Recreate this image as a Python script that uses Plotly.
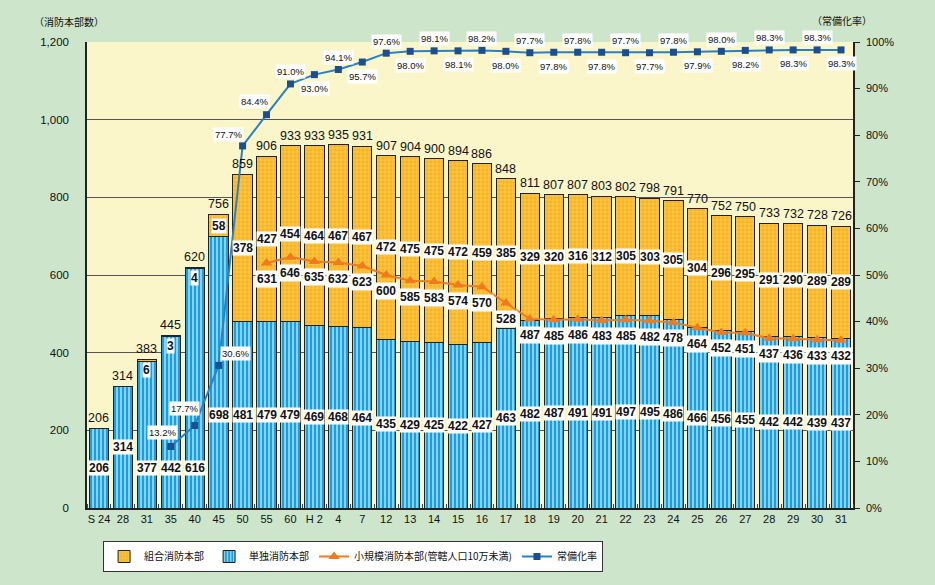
import plotly.graph_objects as go

categories = ["S 24", "28", "31", "35", "40", "45", "50", "55", "60", "H 2", "4", "7",
              "12", "13", "14", "15", "16", "17", "18", "19", "20", "21", "22", "23",
              "24", "25", "26", "27", "28", "29", "30", "31"]
single_hq = [206, 314, 377, 442, 616, 698, 481, 479, 479, 469, 468, 464, 435, 429, 425, 422,
             427, 463, 482, 487, 491, 491, 497, 495, 486, 466, 456, 455, 442, 442, 439, 437]
union_hq = [0, 0, 6, 3, 4, 58, 378, 427, 454, 464, 467, 467, 472, 475, 475, 472,
            459, 385, 329, 320, 316, 312, 305, 303, 305, 304, 296, 295, 291, 290, 289, 289]
small_start = 7
small_hq = [631, 646, 635, 632, 623, 600, 585, 583, 574, 570, 528, 487, 485, 486, 483,
            485, 482, 478, 464, 452, 451, 437, 436, 433, 432]
rate_start = 3
rate = [13.2, 17.7, 30.6, 77.7, 84.4, 91.0, 93.0, 94.1, 95.7, 97.6, 98.0, 98.1, 98.1, 98.2,
        98.0, 97.7, 97.8, 97.8, 97.8, 97.7, 97.7, 97.8, 97.9, 98.0, 98.2, 98.3, 98.3, 98.3, 98.3]
left_ticks = [0, 200, 400, 600, 800, 1000, 1200]
left_ticktext = ["0", "200", "400", "600", "800", "1,000", "1,200"]

FONT = "Liberation Sans, Arial, Noto Sans CJK JP"
CJK = "Noto Sans CJK JP, sans-serif"

x = list(range(len(categories)))
totals = [a + b for a, b in zip(single_hq, union_hq)]
x_small = x[small_start:small_start + len(small_hq)]
x_rate = x[rate_start:rate_start + len(rate)]

BLUE = "#16A0DF"
ORANGE = "#F7B322"

fig = go.Figure()
fig.add_trace(go.Bar(
    x=x, y=single_hq, name="単独消防本部", legendrank=2,
    marker=dict(color=BLUE, line=dict(color="#222", width=1),
                pattern=dict(shape="|", fgcolor="#FFFFFF", size=4, solidity=0.5, fillmode="overlay")),
    hoverinfo="skip",
))
fig.add_trace(go.Bar(
    x=x, y=union_hq, name="組合消防本部", legendrank=1,
    marker=dict(color=ORANGE, line=dict(color="#222", width=1),
                pattern=dict(shape="+", fgcolor="#FFE58C", size=4, solidity=0.35, fillmode="overlay")),
    hoverinfo="skip",
))
fig.add_trace(go.Scatter(
    x=x_small, y=small_hq, name="小規模消防本部(管轄人口10万未満)", legendrank=3,
    mode="lines+markers", line=dict(color="#F07A1E", width=2),
    marker=dict(symbol="triangle-up", size=10, color="#F07A1E"), hoverinfo="skip",
))
fig.add_trace(go.Scatter(
    x=x_rate, y=rate, name="常備化率", legendrank=4, yaxis="y2",
    mode="lines+markers", line=dict(color="#2A80C6", width=2),
    marker=dict(symbol="square", size=7, color="#1B4F8E"), hoverinfo="skip",
))

ann = []
# totals above bars
for xi, t in zip(x, totals):
    ann.append(dict(x=xi, y=t, xref="x", yref="y", text=str(t), showarrow=False,
                    yanchor="bottom", yshift=1, font=dict(size=12.5, color="#111", family=FONT)))
# single labels
single_label_y = [s / 2 for s in single_hq]
for i in (2, 3, 4):
    single_label_y[i] = single_hq[0] / 2
single_label_y[5] = single_hq[6] / 2
for xi, s, yy in zip(x, single_hq, single_label_y):
    ann.append(dict(x=xi, y=yy, xref="x", yref="y", text="<b>%d</b>" % s, showarrow=False,
                    bgcolor="white", borderpad=0, font=dict(size=12, color="#111", family=FONT)))
# union labels
for xi, s, u, t in zip(x, single_hq, union_hq, totals):
    if u == 0:
        continue
    if u < 20:
        ann.append(dict(x=xi, y=t, xref="x", yref="y", text="<b>%d</b>" % u, showarrow=False,
                        yanchor="top", yshift=-3, bgcolor="white", borderpad=0,
                        font=dict(size=12, color="#111", family=FONT)))
    else:
        ann.append(dict(x=xi, y=s + u / 2, xref="x", yref="y", text="<b>%d</b>" % u, showarrow=False,
                        bgcolor="white", borderpad=0, font=dict(size=12, color="#111", family=FONT)))
# small-scale labels
for xi, v in zip(x_small, small_hq):
    ann.append(dict(x=xi, y=v, xref="x", yref="y", text="<b>%d</b>" % v, showarrow=False,
                    yshift=-16, bgcolor="white", borderpad=1,
                    font=dict(size=12, color="#111", family=FONT)))
# rate labels
special = {3: (-8, 14), 4: (-10, 17), 5: (17, 12), 6: (-14, 11), 7: (-12, 13)}
for xi, r in zip(x_rate, rate):
    if xi in special:
        dx, dy = special[xi]
    else:
        dx, dy = 0, (12 if (xi - 8) % 2 == 0 else -14)
    ann.append(dict(x=xi, y=r, xref="x", yref="y2", text="%.1f%%" % r, showarrow=False,
                    xshift=dx, yshift=dy, bgcolor="white", borderpad=1,
                    font=dict(size=9.5, color="#111", family=FONT)))
# axis titles
ann.append(dict(x=-0.0235, y=1.043, xref="paper", yref="paper", text="（消防本部数）", showarrow=False,
                xanchor="center", yanchor="middle",
                font=dict(size=10, color="#111", family=CJK)))
ann.append(dict(x=0.9856, y=1.047, xref="paper", yref="paper", text="（常備化率）", showarrow=False,
                xanchor="center", yanchor="middle",
                font=dict(size=10, color="#111", family=CJK)))

fig.update_layout(
    width=935, height=585, autosize=False,
    margin=dict(l=87, r=82, t=42, b=77),
    paper_bgcolor="#CDE5CB", plot_bgcolor="#FBF6C9",
    barmode="stack", bargap=0.19,
    font=dict(family=FONT, size=11, color="#111"),
    annotations=ann,
    xaxis=dict(range=[-0.5, len(categories) - 0.5], tickmode="array", tickvals=x, ticktext=categories,
               showline=True, linecolor="#222", linewidth=1.5, ticks="", showgrid=False, zeroline=False,
               tickfont=dict(size=11, family=FONT),
               minor=dict(tickmode="linear", tick0=0.5, dtick=1, ticks="inside", ticklen=4,
                          tickcolor="#444", showgrid=False)),
    yaxis=dict(range=[0, 1200], tickmode="array", tickvals=left_ticks, ticktext=left_ticktext,
               showline=True, linecolor="#222", linewidth=1.5, gridcolor="#555", gridwidth=1.2,
               zeroline=False, ticks="", ticklabelstandoff=14, tickfont=dict(size=11.5, family=FONT)),
    yaxis2=dict(range=[0, 100], overlaying="y", side="right", tickmode="linear", tick0=0, dtick=10,
                ticksuffix="%", showline=True, linecolor="#222", linewidth=1.5, showgrid=False,
                zeroline=False, ticks="outside", ticklen=5, tickcolor="#222",
                ticklabelstandoff=4, tickfont=dict(size=11, family=FONT)),
    legend=dict(orientation="h", x=0.021, y=-0.0708, xanchor="left", yanchor="top",
                bgcolor="white", bordercolor="#333", borderwidth=1,
                font=dict(size=10, family=CJK, color="#111"), traceorder="normal"),
)

fig.write_html("out.html", config={"displayModeBar": False},
               post_script="document.body.style.margin='0';")
